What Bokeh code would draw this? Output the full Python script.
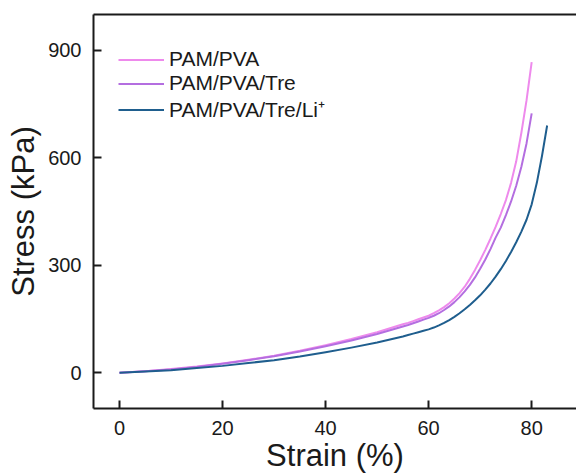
from bokeh.plotting import figure
from bokeh.models import LinearAxis, FixedTicker, Range1d, Legend, LegendItem
from bokeh.embed import file_html
from bokeh.resources import INLINE

# Tensile stress-strain curves (strain in %, stress in kPa)
strain_pva = [0, 5, 10, 15, 20, 25, 30, 35, 40, 45, 50, 55, 56, 57, 58, 59, 60,
              61, 62, 63, 64, 65, 66, 67, 68, 69, 70, 71, 72, 73, 74, 75, 76,
              77, 78, 79, 80]
stress_pva = [0, 4, 10, 17, 26, 36, 47, 61, 77, 94, 113, 135, 139, 144, 149, 154, 159,
              166, 174, 183, 194, 207, 222, 240, 262, 287, 314, 343, 374, 407, 443, 482, 530,
              590, 670, 760, 867]

strain_tre = [0, 5, 10, 15, 20, 25, 30, 35, 40, 45, 50, 55, 56, 57, 58, 59, 60,
              61, 62, 63, 64, 65, 66, 67, 68, 69, 70, 71, 72, 73, 74, 75, 76,
              77, 78, 79, 80]
stress_tre = [0, 4, 9, 16, 25, 35, 46, 59, 74, 90, 108, 129, 133, 138, 143, 148, 153,
              159, 166, 175, 185, 197, 211, 227, 245, 266, 290, 316, 345, 377, 405, 440, 478,
              522, 575, 640, 724]

strain_li = [0, 5, 10, 15, 20, 25, 30, 35, 40, 45, 50, 55, 56, 57, 58, 59, 60,
             61, 62, 63, 64, 65, 66, 67, 68, 69, 70, 71, 72, 73, 74, 75, 76,
             77, 78, 79, 80, 81, 82, 83]
stress_li = [0, 3, 7, 13, 19, 27, 35, 45, 57, 70, 84, 101, 105, 109, 113, 117, 121,
             126, 132, 139, 147, 156, 166, 177, 189, 202, 216, 232, 249, 268, 289, 312, 337,
             364, 394, 427, 470, 530, 605, 690]

names = ["PAM/PVA", "PAM/PVA/Tre", "PAM/PVA/Tre/Li\u207a"]
colors = ["#EE8AEC", "#B46EE0", "#1F5E8E"]

x_ticks = [0, 20, 40, 60, 80]
y_ticks = [0, 300, 600, 900]

FONT = "Liberation Sans"
INK = "#1a1a1a"

p = figure(width=576, height=475, output_backend="svg", toolbar_location=None,
           x_range=Range1d(-5.05, 88.7), y_range=Range1d(-100, 1000),
           min_border_left=93, min_border_right=0, min_border_top=14,
           min_border_bottom=67)
p.outline_line_color = None
p.grid.visible = False
p.background_fill_color = "white"
p.border_fill_color = "white"

renderers = []
for xs, ys, c in zip([strain_pva, strain_tre, strain_li],
                     [stress_pva, stress_tre, stress_li], colors):
    renderers.append(p.line(xs, ys, line_color=c, line_width=2, line_join="round"))

for ax in (p.xaxis[0], p.yaxis[0]):
    ax.axis_line_width = 2
    ax.axis_line_color = INK
    ax.major_tick_line_width = 2
    ax.major_tick_line_color = INK
    ax.major_tick_in = 8
    ax.major_tick_out = 0
    ax.minor_tick_line_color = None
    ax.major_label_text_font = FONT
    ax.major_label_text_font_size = "20px"
    ax.major_label_text_color = INK
    ax.axis_label_text_font = FONT
    ax.axis_label_text_font_size = "31px"
    ax.axis_label_text_font_style = "normal"
    ax.axis_label_text_color = INK

p.xaxis.ticker = FixedTicker(ticks=x_ticks)
p.yaxis.ticker = FixedTicker(ticks=y_ticks)
p.xaxis.axis_label = "Strain (%)"
p.yaxis.axis_label = "Stress (kPa)"
p.xaxis.major_label_standoff = 12
p.yaxis.major_label_standoff = 12
p.xaxis.axis_label_standoff = 0
p.yaxis.axis_label_standoff = 4

# top border line
top = LinearAxis(ticker=FixedTicker(ticks=[]), major_label_text_font_size="0px",
                 axis_line_width=2, axis_line_color=INK,
                 major_tick_line_color=None, minor_tick_line_color=None)
p.add_layout(top, "above")

legend = Legend(items=[LegendItem(label=n, renderers=[r]) for n, r in zip(names, renderers)],
                location=(25, 285), orientation="vertical",
                label_text_font=FONT, label_text_font_size="21px", label_text_color=INK,
                glyph_width=46, glyph_height=23, label_height=23, label_standoff=5,
                spacing=0, padding=4, margin=0,
                border_line_color=None, background_fill_alpha=0)
p.add_layout(legend)

open("out.html", "w").write(file_html(p, INLINE))
